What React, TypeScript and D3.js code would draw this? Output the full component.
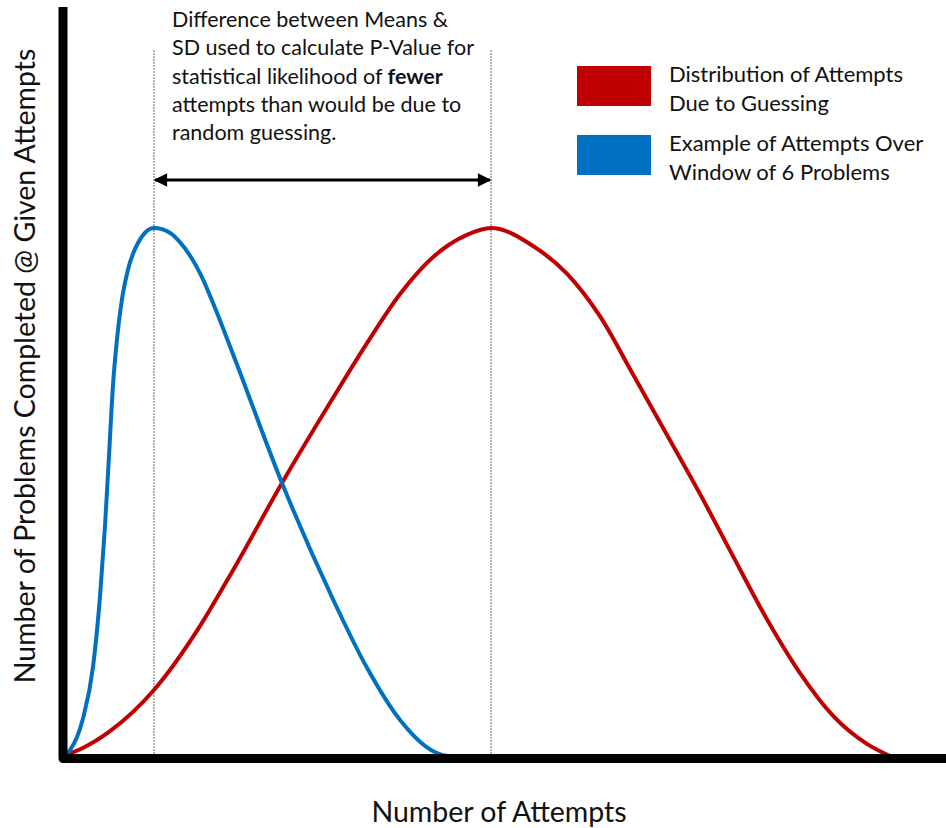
import React from "react";
import * as d3 from "d3";

// Attempts (x) and relative frequency (y, peak = 100)
const blueAttempts = [0, 0.21, 0.6, 0.91, 1.12, 1.27, 1.39, 1.51, 1.63, 1.78, 1.96, 2.27, 2.75, 3.23, 3.48, 4.2, 4.56, 5.14, 6.62, 8.16, 9.19, 10.19, 11.19, 11.7, 12.0];
const blueCounts = [0, 1.1, 7.0, 17.0, 30.3, 43.6, 56.8, 70.1, 78.8, 86.4, 92.0, 97.2, 100, 99.1, 97.7, 90.7, 85.4, 76.1, 51.7, 29.7, 16.7, 6.8, 0.9, 0, 0];
const redAttempts = [0, 0.6, 1.42, 2.75, 4.14, 5.14, 6.62, 8.16, 9.19, 10.19, 11.19, 12.21, 12.94, 14.21, 15.24, 16.23, 17.23, 18.26, 19.26, 20.25, 21.28, 22.28, 23.28, 24.3, 25];
const redCounts = [0, 1.5, 4.7, 12.5, 24.6, 35.2, 51.7, 67.8, 78.2, 87.5, 94.5, 98.7, 100, 96.6, 91.3, 83.3, 72.3, 60.8, 49.6, 37.9, 25.9, 15.7, 7.6, 2.3, 0];
const means = [2.75, 12.94];

const annotationLines = [
  "Difference between Means &",
  "SD used to calculate P-Value for",
  "statistical likelihood of |fewer",
  "attempts than would be due to",
  "random guessing.",
];
const legendItems = [
  { color: "#C00000", lines: ["Distribution of Attempts", "Due to Guessing"] },
  { color: "#0070C0", lines: ["Example of Attempts Over", "Window of 6 Problems"] },
];
const xTitle = "Number of Attempts";
const yTitle = "Number of Problems Completed @ Given Attempts";

const W = 946, H = 828;
const FONT = "Lato, 'Open Sans', sans-serif";

export default function App() {
  const x = d3.scaleLinear().domain([0, 25]).range([63, 890]);
  const y = d3.scaleLinear().domain([0, 100]).range([756, 228]);
  const mk = (xs: number[], ys: number[]) =>
    d3
      .line<[number, number]>()
      .x((d) => x(d[0]))
      .y((d) => y(d[1]))
      .curve(d3.curveMonotoneX)(xs.map((v, i) => [v, ys[i]] as [number, number]))!;
  const bluePath = mk(blueAttempts, blueCounts);
  const redPath = mk(redAttempts, redCounts);
  const mx0 = x(means[0]);
  const mx1 = x(means[1]);
  const arrowY = 180;

  return (
    <svg
      width={W}
      height={H}
      viewBox={`0 0 ${W} ${H}`}
      style={{ position: "absolute", left: 0, top: 0, background: "#fff" }}
      fontFamily={FONT}
    >
      <defs>
        <marker id="ah" viewBox="0 0 10 10" refX="9" refY="5" markerWidth="5" markerHeight="4.5" orient="auto-start-reverse" markerUnits="strokeWidth">
          <path d="M0,0 L10,5 L0,10 z" fill="#000" />
        </marker>
      </defs>

      {/* dotted mean lines */}
      {means.map((m, i) => (
        <line key={i} x1={x(m)} x2={x(m)} y1={50} y2={756} stroke="#666" strokeWidth={1} strokeDasharray="2,1" />
      ))}

      {/* double arrow */}
      <line x1={mx0 + 1} x2={mx1 - 1} y1={arrowY} y2={arrowY} stroke="#000" strokeWidth={3} markerStart="url(#ah)" markerEnd="url(#ah)" />

      {/* curves */}
      <path d={redPath} fill="none" stroke="#C00000" strokeWidth={4} strokeLinecap="round" />
      <path d={bluePath} fill="none" stroke="#0070C0" strokeWidth={4} strokeLinecap="round" />

      {/* axes */}
      <path d={`M63,7 L63,758.5 L946,758.5`} fill="none" stroke="#000" strokeWidth={9} strokeLinejoin="round" />

      {/* annotation */}
      <text fontSize={21.5} fill="#111">
        {annotationLines.map((l, i) => {
          const parts = l.split("|");
          return (
            <tspan key={i} x={172} y={27 + i * 28.3}>
              {parts[0]}
              {parts[1] !== undefined && <tspan fontWeight="bold">{parts[1]}</tspan>}
            </tspan>
          );
        })}
      </text>

      {/* legend */}
      {legendItems.map((it, i) => (
        <g key={i} transform={`translate(0, ${i * 69})`}>
          <rect x={577} y={66} width={74} height={40} fill={it.color} />
          {it.lines.map((l, j) => (
            <text key={j} x={669} y={82 + j * 29} fontSize={22} fill="#111">
              {l}
            </text>
          ))}
        </g>
      ))}

      {/* axis titles */}
      <text x={499} y={822} fontSize={28.5} textAnchor="middle" fill="#111">
        {xTitle}
      </text>
      <text transform={`translate(35, 366) rotate(-90)`} fontSize={28.5} textAnchor="middle" fill="#111">
        {yTitle}
      </text>
    </svg>
  );
}
